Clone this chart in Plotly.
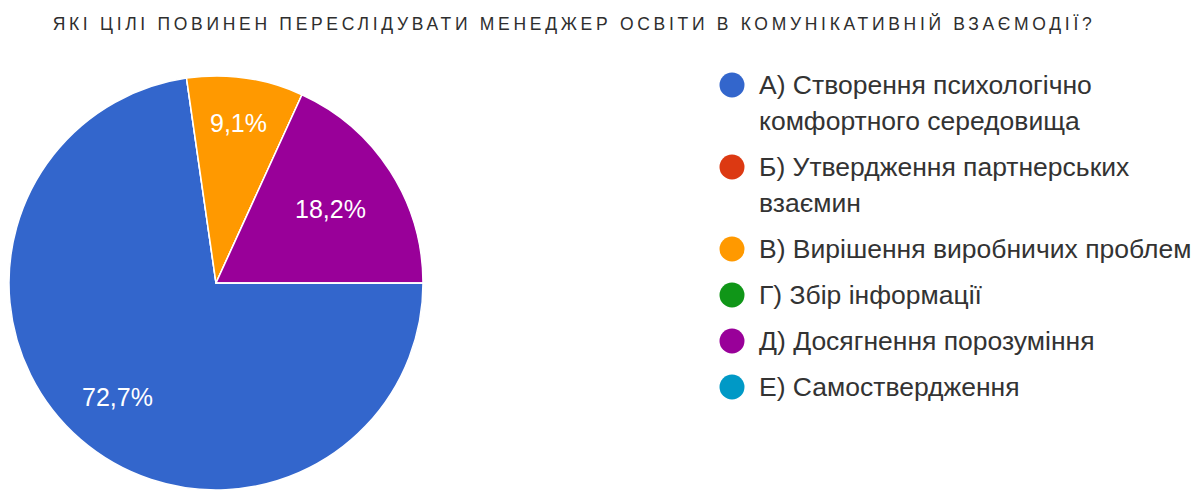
import math
import plotly.graph_objects as go

# Survey question and answer options
title_text = "ЯКІ ЦІЛІ ПОВИНЕН ПЕРЕСЛІДУВАТИ МЕНЕДЖЕР ОСВІТИ В КОМУНІКАТИВНІЙ ВЗАЄМОДІЇ?"
options = [
    "А) Створення психологічно комфортного середовища",
    "Б) Утвердження партнерських взаємин",
    "В) Вирішення виробничих проблем",
    "Г) Збір інформації",
    "Д) Досягнення порозуміння",
    "Е) Самоствердження",
]
# Legend text, wrapped the same way as on the form summary
legend_lines = [
    ["А) Створення психологічно", "комфортного середовища"],
    ["Б) Утвердження партнерських", "взаємин"],
    ["В) Вирішення виробничих проблем"],
    ["Г) Збір інформації"],
    ["Д) Досягнення порозуміння"],
    ["Е) Самоствердження"],
]
# Number of respondents per option (11 in total)
responses = [8, 0, 1, 0, 2, 0]
colors = ["#3366cc", "#dc3912", "#ff9900", "#109618", "#990099", "#0099c6"]
# how far out from the centre each percentage label sits (fraction of radius)
label_depth = [0.73, 0.0, 0.78, 0.0, 0.66, 0.0]

W, H = 1204, 495
FONT = "Liberation Sans, Arial, sans-serif"

# pie geometry in pixels
cx, cy, r = 216, 283, 207
start_deg = 90  # first slice begins at 3 o'clock, going clockwise

fig = go.Figure()

fig.add_trace(go.Pie(
    labels=options,
    values=responses,
    sort=False,
    direction="clockwise",
    rotation=start_deg,
    marker=dict(colors=colors, line=dict(color="white", width=1.5)),
    textinfo="none",
    hoverinfo="label+percent",
    showlegend=False,
    domain=dict(x=[(cx - r) / W, (cx + r) / W],
                y=[(H - cy - r) / H, (H - cy + r) / H]),
))

annotations = []

# percentage labels, placed along each slice's mid-angle
total = sum(responses)
acc = 0.0
for v, depth in zip(responses, label_depth):
    if v:
        mid = math.radians(start_deg + 360.0 * (acc + v / 2) / total)
        d = depth * r
        annotations.append(dict(
            x=cx + d * math.sin(mid), y=cy - d * math.cos(mid),
            xref="x", yref="y", showarrow=False,
            xanchor="center", yanchor="middle",
            text=f"{100 * v / total:.1f}%".replace(".", ","),
            font=dict(family=FONT, size=25, color="white"),
        ))
    acc += v

# custom legend with round markers, drawn on a hidden pixel-scaled axis
marker_x, text_x = 732, 757
first_y, item_gap, line_gap = 85, 46, 36
ys, y = [], first_y
for lines in legend_lines:
    ys.append(y)
    for j, line in enumerate(lines):
        annotations.append(dict(
            x=text_x, y=y + j * line_gap, xref="x", yref="y",
            text=line, showarrow=False, xanchor="left", yanchor="middle",
            font=dict(family=FONT, size=26.5, color="#333333"),
        ))
    y += (len(lines) - 1) * line_gap + item_gap

fig.add_trace(go.Scatter(
    x=[marker_x] * len(options), y=ys, mode="markers",
    marker=dict(size=25, color=colors, line=dict(width=0)),
    hoverinfo="skip", showlegend=False,
))

fig.update_layout(
    width=W, height=H,
    margin=dict(l=0, r=0, t=0, b=0),
    paper_bgcolor="white", plot_bgcolor="white",
    title=dict(
        text=title_text,
        x=574 / W, xanchor="center",
        y=1 - 24 / H, yanchor="middle", yref="container",
        font=dict(family=FONT, size=17.5, color="#2e2e2e"),
    ),
    xaxis=dict(range=[0, W], visible=False, domain=[0, 1], fixedrange=True),
    yaxis=dict(range=[H, 0], visible=False, domain=[0, 1], fixedrange=True),
    annotations=annotations,
)

# widen the tracking of the title letters
post = """
var gd = document.getElementById('{plot_id}');
function track() {
  gd.querySelectorAll('.gtitle').forEach(function (t) { t.style.letterSpacing = '3.7px'; });
}
track();
gd.on('plotly_afterplot', track);
"""

fig.write_html("out.html", post_script=post)
